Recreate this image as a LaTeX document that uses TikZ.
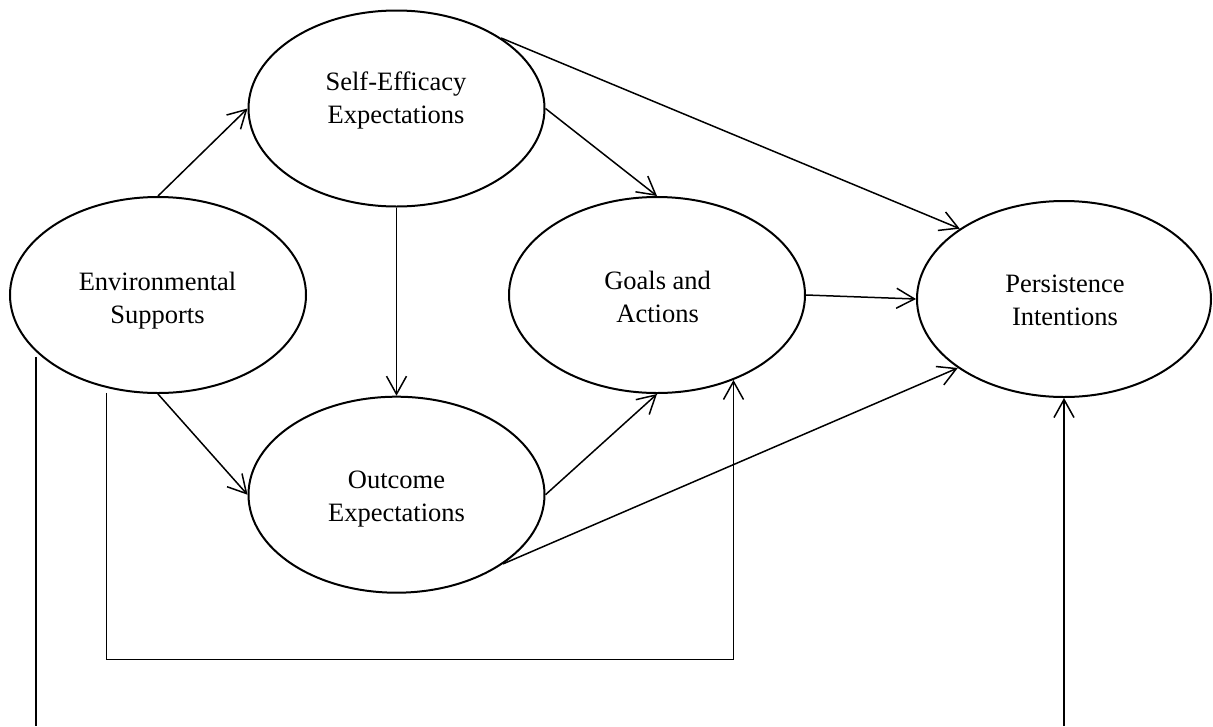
\documentclass[tikz,border=0pt]{standalone}
\usepackage{fontspec}
\setmainfont{Liberation Serif}
\usetikzlibrary{shapes.geometric,arrows.meta}
\begin{document}
\begin{tikzpicture}[x=1pt,y=-1pt,
  construct/.style={ellipse,draw,line width=2pt,minimum width=296pt,minimum height=196pt,inner sep=0pt},
  caption/.style={align=center,font=\fontsize{26.5pt}{33pt}\selectfont,inner sep=0pt},
  link/.style={line width=1.5pt,-{Straight Barb[length=18pt,width=20pt]}},
  plain/.style={line width=1.5pt}]
\useasboundingbox (0,0) rectangle (1213,726);

% constructs of the model
\node[construct] (env) at (158,295) {};
\node[construct] (se) at (396.5,108.5) {};
\node[construct] (oe) at (396.5,494.7) {};
\node[construct] (ga) at (657,295) {};
\node[construct,minimum width=294pt] (pi) at (1064,299) {};

% construct names
\node[caption] (env-t) at (157.5,300.3) {Environmental\\Supports};
\node[caption] (se-t) at (396,100.3) {Self-Efficacy\\Expectations};
\node[caption] (oe-t) at (396.5,498.6) {Outcome\\Expectations};
\node[caption] (ga-t) at (657.6,296.8) {Goals and\\Actions};
\node[caption] (pi-t) at (1065,300.1) {Persistence\\Intentions};

% helper levels for the routed lines
\coordinate (loopy) at (0,659.3);
\coordinate (bottom) at (0,726);

% paths between constructs
\draw[link] (env.north) -- (se.west);
\draw[link] (env.south) -- (oe.west);
\draw[link] (se.south) -- (oe.north);
\draw[link] (se.east) -- (ga.north);
\draw[link] (se.34.7) -- (pi.146.25);
\draw[link] (ga.east) -- (pi.west);
\draw[link] (oe.east) -- (ga.south);
\draw[link] (oe.-33.2) -- (pi.213.6);
\draw[link,shorten <=5pt] (env.241.9) -- (env.241.9 |- loopy) -| (ga.-48.9);
\draw[plain,shorten <=5pt] (env.205.7) -- (env.205.7 |- bottom);
\draw[link] (pi.south |- bottom) -- (pi.south);
\end{tikzpicture}
\end{document}
